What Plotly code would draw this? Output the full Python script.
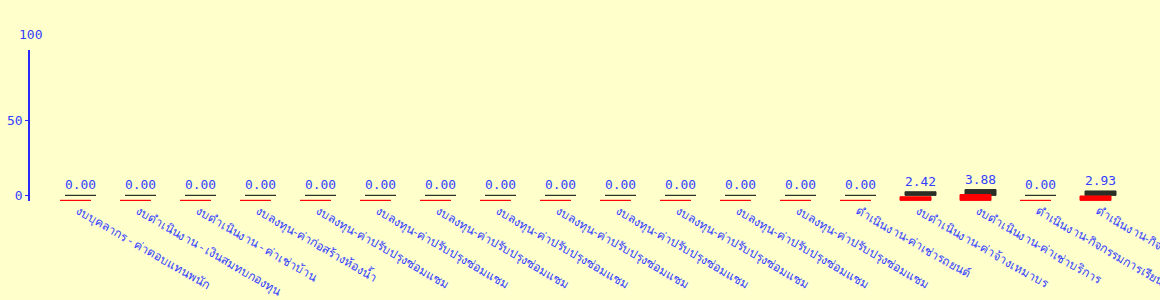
import plotly.graph_objects as go

categories = [
    "งบบุคลากร - ค่าตอบแทนพนัก",
    "งบดำเนินงาน - เงินสมทบกองทุน",
    "งบดำเนินงาน - ค่าเช่าบ้าน",
    "งบลงทุน-ค่าก่อสร้างห้องน้ำ",
    "งบลงทุน-ค่าปรับปรุงซ่อมแซม",
    "งบลงทุน-ค่าปรับปรุงซ่อมแซม",
    "งบลงทุน-ค่าปรับปรุงซ่อมแซม",
    "งบลงทุน-ค่าปรับปรุงซ่อมแซม",
    "งบลงทุน-ค่าปรับปรุงซ่อมแซม",
    "งบลงทุน-ค่าปรับปรุงซ่อมแซม",
    "งบลงทุน-ค่าปรับปรุงซ่อมแซม",
    "งบลงทุน-ค่าปรับปรุงซ่อมแซม",
    "งบลงทุน-ค่าปรับปรุงซ่อมแซม",
    "ดำเนินงาน-ค่าเช่ารถยนต์",
    "งบดำเนินงาน-ค่าจ้างเหมาบร",
    "งบดำเนินงาน-ค่าเช่าบริการ",
    "ดำเนินงาน-กิจกรรมการเรียนการสอน",
    "ดำเนินงาน-กิจกรรมพัฒนาผู้เรียน",
]
values = [0, 0, 0, 0, 0, 0, 0, 0, 0, 0, 0, 0, 0, 0, 2.42, 3.88, 0, 2.93]
y_ticks = [0, 50, 100]

BG = "#FFFFCC"
BLUE = "#3340ff"
AXIS = "#2a2aff"
DARK = "#2b2f26"
RED = "#ff0000"
DEPTH = 10 / 3  # 3D depth of the bars, in axis units (5 px)

x = list(range(len(categories)))
W = 31 / 60

fig = go.Figure()
fig.add_trace(go.Bar(
    x=x, y=values, base=0, width=W, offset=-13 / 60,
    marker=dict(color=DARK, line=dict(color=DARK, width=1)),
    text=[f"{v:.2f}" for v in values], textposition="outside",
    textfont=dict(family="DejaVu Sans Mono", size=13, color=BLUE),
    cliponaxis=False, hoverinfo="skip",
))
fig.add_trace(go.Bar(
    x=x, y=values, base=-DEPTH, width=W, offset=-18 / 60,
    marker=dict(color=RED, line=dict(color=RED, width=1)),
    cliponaxis=False, hoverinfo="skip",
))

yr = [-DEPTH - 0.4, 100 - DEPTH]
fig.update_layout(
    template="none",
    width=1160, height=300,
    margin=dict(l=30, r=0, t=50, b=99, pad=0),
    paper_bgcolor=BG, plot_bgcolor=BG,
    barmode="overlay", showlegend=False,
    xaxis=dict(
        automargin=False,
        range=[-0.8, (1160 - 78) / 60],
        tickmode="array", tickvals=x, ticktext=categories,
        tickangle=30, ticks="", showline=False, showgrid=False, zeroline=False,
        ticklabeloverflow="allow",
        tickfont=dict(family="Noto Sans", size=12, color=BLUE),
    ),
    yaxis=dict(
        automargin=False,
        range=yr, tickmode="array", tickvals=y_ticks[:2],
        ticktext=[str(t) for t in y_ticks[:2]],
        ticks="outside", ticklen=3, tickcolor=AXIS, tickwidth=1,
        showline=True, linecolor=AXIS, linewidth=1.5,
        showgrid=False, zeroline=False,
        tickfont=dict(family="DejaVu Sans Mono", size=13, color=BLUE),
    ),
    yaxis2=dict(
        automargin=False,
        overlaying="y", side="left", range=yr, tickmode="array",
        tickvals=y_ticks[:2], ticks="inside", ticklen=8, tickcolor=AXIS,
        showticklabels=False, showline=False, showgrid=False, zeroline=False,
    ),
    annotations=[dict(
        text=str(y_ticks[2]), xref="paper", yref="paper", x=0, y=1,
        xanchor="center", yanchor="bottom", yshift=6, showarrow=False,
        font=dict(family="DejaVu Sans Mono", size=13, color=BLUE),
    )],
)

fig.write_html("out.html")
